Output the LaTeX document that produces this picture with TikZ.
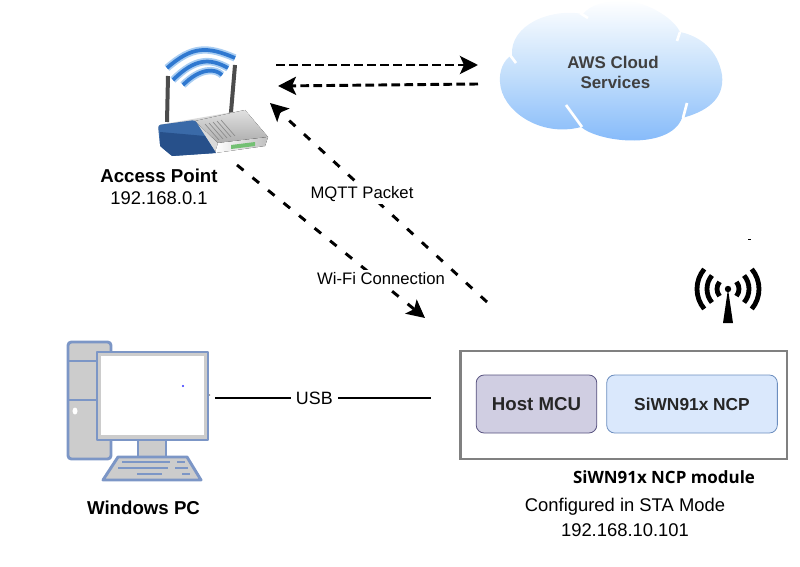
\documentclass[tikz,border=0pt]{standalone}
\usepackage{fontspec}
\setmainfont{Liberation Sans}
\newfontfamily\labelfont{Open Sans}
\usetikzlibrary{arrows.meta, positioning}
\definecolor{pcblue}{HTML}{7C96C6}
\definecolor{pcgrey}{HTML}{CCCCCC}
\definecolor{wifiblue}{HTML}{2F78D0}
\definecolor{wifiglow}{HTML}{A9CDF2}
\definecolor{cloudlow}{HTML}{7EB6FA}
\definecolor{cloudmid}{HTML}{C2DEFB}
\definecolor{hostfill}{HTML}{D0CEE2}
\definecolor{hostline}{HTML}{56517E}
\definecolor{ncpfill}{HTML}{DAE8FC}
\definecolor{ncpline}{HTML}{6C8EBF}
\definecolor{routerblue}{HTML}{3A6AA8}
\definecolor{routerdark}{HTML}{27508A}
\begin{document}
\begin{tikzpicture}[
        x=0.75pt, y=-0.75pt,
        arrow/.style={line width=2.2pt, -{Stealth[length=13.5pt, width=13.5pt, inset=3pt]}},
        flat/.style={arrow, dash pattern=on 6.5pt off 3.25pt},
        slant/.style={arrow, dash pattern=on 6.3pt off 8.7pt},
        txt/.style={inner sep=0pt, font=\fontsize{13.8}{16}\selectfont},
        linktxt/.style={fill=white, inner sep=2pt, font=\fontsize{12.5}{15}\selectfont},
        boldtxt/.style={inner sep=0pt, font=\fontsize{14}{17}\selectfont\bfseries},
        unit/.style={rectangle, rounded corners=6pt, minimum height=43.5pt, line width=0.6pt, text=black!85, font=\fontsize{14}{17}\selectfont\bfseries},
        pcline/.style={draw=pcblue, line width=2.2pt, line join=round},
        keyline/.style={draw=pcblue, line width=1.4pt},
        notch/.style={draw=white, line width=2pt},
        beam/.style={line width=3.6pt, line cap=butt, black}
    ]
    \useasboundingbox (0,0) rectangle (800,567);

    % --- CLOUD ---
    \path [top color=white, bottom color=cloudlow, middle color=cloudmid]
        (512,55) .. controls (503,60) and (499,72) .. (500,82)
        .. controls (501,110) and (540,138) .. (581,127)
        .. controls (600,143) and (670,150) .. (682,118)
        .. controls (705,112) and (725,100) .. (722,75)
        .. controls (718,50) and (700,36) .. (680,32)
        .. controls (672,15) and (640,0) .. (625,1)
        .. controls (605,0) and (590,5) .. (583,14)
        .. controls (550,8) and (510,25) .. (512,55) -- cycle;
    \draw [notch] (566,105) -- (582,127);
    \draw [notch] (687,103) -- (683,118);
    \draw [notch] (677,41) -- (680,32);
    \draw [notch] (510,55) -- (516,63);
    \draw [notch] (580,13) -- (588,18);
    \node (cloud) [inner sep=0pt, align=center, text=black!75, font=\fontsize{12.7}{15}\selectfont\bfseries] at (613,72) {AWS Cloud\\~Services};

    % --- ROUTER ---
    \draw [line width=3pt, black!70] (168,76) -- (167,122);
    \draw [line width=3pt, black!70] (235,65) -- (230,124);
    \fill [black!15, rounded corners=2pt] (158,125) -- (245,110) -- (268,137) -- (265,146) -- (215,153) -- (172,156) -- (160,146) -- cycle;
    \fill [top color=black!12, bottom color=black!32] (195,121) -- (245,110) -- (268,137) -- (218,143) -- cycle;
    \fill [left color=white, right color=black!25] (218,143) -- (268,137) -- (265,146) -- (215,153) -- cycle;
    \foreach \i in {0,1,2,3,4} {
        \draw [black!45, line width=0.5pt] (205+4*\i,124-\i) -- (219+4*\i,140-\i);
    }
    \fill [routerblue, rounded corners=2pt] (158,125) -- (195,120) -- (216,153) -- (172,156) -- (160,146) -- cycle;
    \fill [routerdark] (160,132) -- (205,136) -- (216,153) -- (172,156) -- (160,146) -- cycle;
    \fill [green!55!black!55] (231,145) -- (255,142) -- (255,146) -- (231,149) -- cycle;
    \foreach \a/\b/\c/\d/\e/\f in {167/68/192/46/235/58, 173/80/195/58/228/68, 183/85/200/68/222/75} {
        \draw [wifiglow, line width=5.5pt] (\a,\b) .. controls (\c,\d) and (\c+15,\d) .. (\e,\f);
        \draw [wifiblue, line width=2.8pt] (\a,\b) .. controls (\c,\d) and (\c+15,\d) .. (\e,\f);
    }
    \coordinate (ap_in) at (270,103);
    \coordinate (ap_out) at (237,165);
    \coordinate (ap_right) at (276,65);
    \coordinate (ap_left) at (278,86);
    \node (ap) [boldtxt] at (159,176) {Access Point};
    \node (ap_ip) [txt, below=6pt of ap] {192.168.0.1};

    % --- PC ---
    \draw [pcline, fill=pcgrey, rounded corners=2.5pt] (68,342) rectangle (111,459);
    \draw [pcline] (68,361) -- (97,361);
    \draw [pcline] (68,400) -- (97,400);
    \fill [white] (75,411) ellipse (2.5 and 3.5);
    \draw [pcline, fill=pcgrey] (138,440) rectangle (166,457);
    \draw [pcline, fill=pcgrey] (118,457) -- (187,457) -- (201,480) -- (103,480) -- cycle;
    \draw [keyline] (122,462) -- (170,462);
    \draw [keyline] (177,462) -- (185,462);
    \draw [keyline] (118,468) -- (168,468);
    \draw [keyline] (175,468) -- (188,468);
    \draw [keyline] (137,474) -- (162,474);
    \draw [keyline] (182,474) -- (190,474);
    \draw [pcline, fill=pcgrey] (97,352) rectangle (208,440);
    \fill [white] (101,356) rectangle (204,435);
    \fill [blue!80!white] (183,386) circle (1.2);
    \fill [black!45] (209.5,395) circle (0.8);
    \coordinate (pc_out) at (215,398);
    \node (pc) [boldtxt] at (143.5,508) {Windows PC};

    % --- MODULE ---
    \node (module) [draw=black!50, line width=2pt, minimum width=245pt, minimum height=81pt, inner sep=0pt] at (623.5,405) {};
    \node (host) [unit, draw=hostline, fill=hostfill, minimum width=90.5pt, inner sep=0pt] at (536.5,404) {Host MCU};
    \node (ncp) [unit, draw=ncpline, fill=ncpfill, minimum width=128pt, inner sep=0pt, right=6.8pt of host, font=\fontsize{13}{16}\selectfont\bfseries] {SiWN91x NCP};
    \coordinate (module_in) at (425,318);
    \coordinate (module_out) at (487,302);
    \coordinate (module_usb) at (431,398);
    \node (module_name) [inner sep=0pt, font=\labelfont\fontsize{12.7}{15}\selectfont\bfseries] at (664,477) {SiWN91x NCP module};
    \node (mode) [txt] at (625,507) {Configured in STA Mode};
    \node (module_ip) [txt, below=6pt of mode] {192.168.10.101};

    % --- SIGNAL ICON ---
    \coordinate (mast) at (728,289);
    \fill (mast) circle (3.2);
    \fill (mast) -- (723,323) -- (733,323) -- cycle;
    \foreach \r in {11,21,31} {
        \draw [beam] (mast) ++(-40:\r) arc (-40:40:\r);
        \draw [beam] (mast) ++(140:\r) arc (140:220:\r);
    }
    \draw [line width=0.6pt] (748,239) -- (751,239);

    % --- ARROWS ---
    \coordinate (cloud_in) at (478,65);
    \coordinate (cloud_out) at (478,84);
    \draw [flat] (ap_right) -- (cloud_in);
    \draw [flat] (cloud_out) -- (ap_left);
    \draw [slant] (module_out) -- (ap_in);
    \draw [slant] (ap_out) -- (module_in);
    \draw [line width=0.9pt] (pc_out) -- node[pos=0.46, fill=white, inner sep=4pt, font=\fontsize{13.4}{15}\selectfont] (usb) {USB} (module_usb);

    % --- LINK LABELS ---
    \node (mqtt) [linktxt] at (362,194) {MQTT Packet};
    \node (wifi) [linktxt] at (381,279) {Wi-Fi Connection};

    \end{tikzpicture}
\end{document}
